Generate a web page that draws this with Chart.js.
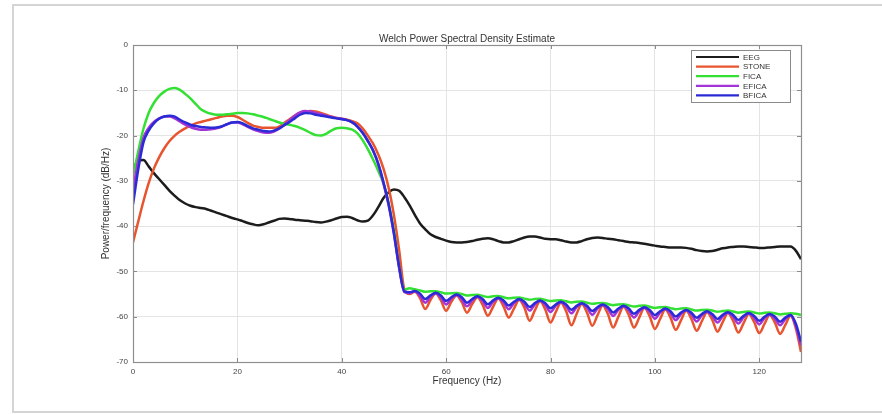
<!DOCTYPE html>
<html>
<head>
<meta charset="utf-8">
<script src="https://cdn.jsdelivr.net/npm/chart.js@4.4.1/dist/chart.umd.min.js"></script>
<style>
  html, body { margin: 0; padding: 0; background: #ffffff; }
  #wrap { position: relative; width: 882px; height: 414px; overflow: hidden; }
  #frame { position: absolute; left: 12px; top: 4px; width: 872px; height: 409px;
           border: 2px solid #d4d4d4; box-sizing: border-box; }
  canvas { position: absolute; left: 0; top: 0; }
</style>
</head>
<body>
<div id="wrap">
  <div id="frame"></div>
  <canvas id="psd" width="882" height="414"></canvas>
</div>
<script>
// Welch PSD estimates (dB/Hz), one value per 1 Hz bin from 0 to 128 Hz
const seriesNames = ['EEG', 'STONE', 'FICA', 'EFICA', 'BFICA'];
const seriesColors = ['#1c1c1c', '#e8542e', '#33e033', '#a334d6', '#2b2bd6'];
const xTicks = [0, 20, 40, 60, 80, 100, 120];
const yTicks = [0, -10, -20, -30, -40, -50, -60, -70];

const freqHz = [];
for (let f = 0; f <= 128; f++) freqHz.push(f);

const eeg = [
  -27.5, -25.6, -25.4, -26.8, -28.3, -29.6, -30.9, -32.2, -33.3, -34.3,
  -35.0, -35.5, -35.8, -36.0, -36.2, -36.6, -37.0, -37.4, -37.8, -38.2,
  -38.5, -38.9, -39.3, -39.6, -39.8, -39.6, -39.2, -38.8, -38.4, -38.3,
  -38.4, -38.6, -38.7, -38.8, -38.9, -39.1, -39.2, -39.0, -38.7, -38.3,
  -38.0, -37.9, -38.2, -38.7, -39.0, -38.8, -37.6, -35.8, -33.8, -32.5,
  -31.9, -32.2, -33.6, -35.4, -37.5, -39.4, -40.7, -41.8, -42.4, -42.8,
  -43.2, -43.5, -43.6, -43.6, -43.5, -43.3, -43.0, -42.8, -42.7, -42.9,
  -43.3, -43.6, -43.6, -43.3, -42.9, -42.5, -42.3, -42.3, -42.5, -42.8,
  -42.9, -42.9, -43.1, -43.4, -43.6, -43.6, -43.3, -42.9, -42.6, -42.5,
  -42.6, -42.8, -42.9, -43.1, -43.3, -43.5, -43.6, -43.7, -43.9, -44.1,
  -44.3, -44.5, -44.6, -44.7, -44.7, -44.7, -44.8, -45.0, -45.3, -45.5,
  -45.6, -45.5, -45.2, -44.9, -44.7, -44.6, -44.5, -44.5, -44.6, -44.7,
  -44.8, -44.8, -44.7, -44.6, -44.5, -44.5, -44.5, -45.4, -47.3
];

const stone = [
  -43.6, -39.0, -34.5, -30.5, -27.3, -24.8, -22.8, -21.2, -20.0, -19.1,
  -18.4, -17.8, -17.3, -17.0, -16.7, -16.4, -16.1, -15.8, -15.6, -15.6,
  -15.9, -16.5, -17.2, -17.8, -18.1, -18.3, -18.3, -18.3, -18.0, -17.2,
  -16.4, -15.6, -15.0, -14.7, -14.6, -14.7, -15.0, -15.4, -15.8, -16.1,
  -16.3, -16.5, -16.8, -17.3, -18.4, -20.0, -21.8, -24.2, -27.3, -31.6,
  -37.6, -45.3, -54.0, -55.0, -54.5, -55.9, -58.3, -56.3, -54.9, -56.4,
  -58.7, -56.7, -55.3, -56.8, -59.1, -57.2, -55.7, -57.4, -59.8, -57.8,
  -56.0, -57.7, -60.2, -58.2, -56.3, -58.0, -60.9, -58.6, -56.6, -58.4,
  -61.3, -59.0, -56.9, -58.8, -61.9, -59.4, -57.2, -59.1, -62.0, -59.7,
  -57.5, -59.4, -62.4, -60.0, -57.8, -59.6, -62.4, -60.2, -58.1, -59.9,
  -62.7, -60.5, -58.4, -60.2, -62.9, -60.8, -58.7, -60.5, -63.1, -61.0,
  -59.0, -60.7, -63.3, -61.2, -59.2, -60.9, -63.5, -61.4, -59.4, -61.1,
  -63.6, -61.6, -59.6, -61.3, -63.8, -61.8, -59.8, -62.5, -67.8
];

const fica = [
  -29.0, -23.5, -18.5, -15.0, -12.8, -11.3, -10.3, -9.7, -9.5, -9.9,
  -10.8, -11.8, -13.0, -14.2, -14.8, -15.2, -15.4, -15.4, -15.3, -15.2,
  -15.0, -15.0, -15.1, -15.3, -15.6, -15.9, -16.3, -16.7, -17.1, -17.4,
  -17.6, -17.9, -18.3, -18.8, -19.4, -19.9, -20.0, -19.6, -18.9, -18.4,
  -18.3, -18.4, -18.7, -19.5, -21.0, -23.0, -25.3, -27.8, -30.6, -35.0,
  -41.0, -49.0, -54.0, -53.7, -53.95, -54.2, -54.5, -54.4, -54.35, -54.6,
  -54.9, -54.8, -54.75, -55.0, -55.3, -55.2, -55.15, -55.4, -55.65, -55.5,
  -55.45, -55.7, -55.95, -55.8, -55.75, -56.0, -56.25, -56.1, -56.05, -56.3,
  -56.55, -56.4, -56.35, -56.6, -56.85, -56.7, -56.65, -56.9, -57.15, -57.0,
  -56.95, -57.2, -57.45, -57.3, -57.25, -57.5, -57.75, -57.6, -57.55, -57.8,
  -58.05, -57.9, -57.85, -58.1, -58.35, -58.2, -58.15, -58.4, -58.65, -58.5,
  -58.45, -58.65, -58.9, -58.75, -58.65, -58.85, -59.1, -58.95, -58.85, -59.05,
  -59.3, -59.15, -59.05, -59.25, -59.5, -59.35, -59.25, -59.35, -59.6
];

const efica = [
  -32.0, -25.5, -20.5, -18.3, -17.0, -16.2, -15.8, -15.8, -16.2, -16.9,
  -17.6, -18.1, -18.5, -18.7, -18.7, -18.6, -18.4, -18.0, -17.5, -17.1,
  -17.1, -17.5, -18.1, -18.6, -19.0, -19.3, -19.4, -19.1, -18.5, -17.6,
  -16.6, -15.6, -14.9, -14.6, -14.7, -15.0, -15.3, -15.6, -15.9, -16.1,
  -16.3, -16.6, -17.1, -18.0, -19.4, -21.2, -23.3, -26.4, -30.6, -35.5,
  -41.8, -49.3, -54.6, -54.8, -54.4, -55.4, -56.9, -55.6, -54.8, -55.8,
  -57.3, -56.0, -55.2, -56.2, -57.7, -56.4, -55.6, -56.5, -58.05, -56.7,
  -55.9, -56.8, -58.35, -57.0, -56.2, -57.1, -58.65, -57.3, -56.5, -57.4,
  -58.95, -57.6, -56.8, -57.7, -59.25, -57.9, -57.1, -58.0, -59.55, -58.2,
  -57.4, -58.3, -59.85, -58.5, -57.7, -58.6, -60.15, -58.8, -58.0, -58.9,
  -60.45, -59.1, -58.3, -59.2, -60.75, -59.4, -58.6, -59.5, -61.05, -59.7,
  -58.9, -59.8, -61.3, -59.9, -59.1, -60.0, -61.5, -60.1, -59.3, -60.2,
  -61.7, -60.3, -59.5, -60.4, -61.9, -60.5, -59.7, -62.0, -66.3
];

const bfica = [
  -35.2, -27.5, -21.5, -18.9, -17.3, -16.3, -15.8, -15.6, -15.8, -16.5,
  -17.1, -17.6, -17.9, -18.1, -18.2, -18.3, -18.2, -18.0, -17.5, -17.1,
  -17.0, -17.3, -17.9, -18.4, -18.7, -19.0, -19.1, -18.9, -18.4, -17.7,
  -17.0, -16.2, -15.4, -15.0, -15.1, -15.4, -15.6, -15.8, -16.0, -16.2,
  -16.4, -16.6, -17.1, -18.0, -19.4, -21.2, -23.3, -26.2, -30.3, -35.2,
  -41.5, -49.0, -54.4, -54.6, -54.3, -54.9, -56.1, -55.3, -54.7, -55.3,
  -56.5, -55.7, -55.1, -55.7, -56.9, -56.1, -55.5, -56.1, -57.25, -56.4,
  -55.8, -56.4, -57.55, -56.7, -56.1, -56.7, -57.85, -57.0, -56.4, -57.0,
  -58.15, -57.3, -56.7, -57.3, -58.45, -57.6, -57.0, -57.6, -58.75, -57.9,
  -57.3, -57.9, -59.05, -58.2, -57.6, -58.2, -59.35, -58.5, -57.9, -58.5,
  -59.65, -58.8, -58.2, -58.8, -59.95, -59.1, -58.5, -59.1, -60.25, -59.4,
  -58.8, -59.4, -60.5, -59.6, -59.0, -59.6, -60.7, -59.8, -59.2, -59.8,
  -60.9, -60.0, -59.4, -60.0, -61.1, -60.2, -59.6, -61.5, -65.5
];

const seriesValues = [eeg, stone, fica, efica, bfica];

const FONT = 'Liberation Sans, Arial, Helvetica, sans-serif';

// Axes frame, inner tick marks, title, axis labels and the boxed legend
const figureDecor = {
  id: 'figureDecor',
  beforeDatasetsDraw(chart) {
    const { ctx, chartArea: a, scales } = chart;
    ctx.save();
    ctx.strokeStyle = '#8a8a8a';
    ctx.lineWidth = 1;
    ctx.beginPath();
    xTicks.forEach(v => {
      const x = Math.round(scales.x.getPixelForValue(v)) + 0.5;
      ctx.moveTo(x, a.bottom); ctx.lineTo(x, a.bottom - 4);
      ctx.moveTo(x, a.top); ctx.lineTo(x, a.top + 4);
    });
    yTicks.forEach(v => {
      const y = Math.round(scales.y.getPixelForValue(v)) + 0.5;
      ctx.moveTo(a.left, y); ctx.lineTo(a.left + 4, y);
      ctx.moveTo(a.right, y); ctx.lineTo(a.right - 4, y);
    });
    ctx.stroke();
    ctx.restore();
  },
  afterDraw(chart) {
    const { ctx, chartArea: a } = chart;
    ctx.save();
    // axes box
    ctx.strokeStyle = '#8f8f8f';
    ctx.lineWidth = 1.2;
    ctx.strokeRect(a.left + 0.5, a.top + 0.5, a.right - a.left, a.bottom - a.top);

    // title
    ctx.fillStyle = '#333333';
    ctx.font = '10px ' + FONT;
    ctx.textAlign = 'center';
    ctx.textBaseline = 'bottom';
    ctx.fillText('Welch Power Spectral Density Estimate', (a.left + a.right) / 2, a.top - 1);

    // x axis label
    ctx.textBaseline = 'middle';
    ctx.fillText('Frequency (Hz)', (a.left + a.right) / 2, 381);

    // y axis label
    ctx.save();
    ctx.translate(106, (a.top + a.bottom) / 2);
    ctx.rotate(-Math.PI / 2);
    ctx.fillText('Power/frequency (dB/Hz)', 0, 0);
    ctx.restore();

    // legend
    const bx = 691, by = 50, bw = 99, bh = 52;
    ctx.fillStyle = '#ffffff';
    ctx.fillRect(bx, by, bw, bh);
    ctx.strokeStyle = '#8a8a8a';
    ctx.lineWidth = 1;
    ctx.strokeRect(bx + 0.5, by + 0.5, bw, bh);
    ctx.font = '8px ' + FONT;
    ctx.textAlign = 'left';
    ctx.textBaseline = 'middle';
    chart.data.datasets.forEach((ds, i) => {
      const y = by + 7 + i * 9.6;
      ctx.strokeStyle = ds.borderColor;
      ctx.lineWidth = 2.2;
      ctx.beginPath();
      ctx.moveTo(bx + 5, y); ctx.lineTo(bx + 48, y);
      ctx.stroke();
      ctx.fillStyle = '#333333';
      ctx.fillText(ds.label, bx + 52, y + 0.5);
    });
    ctx.restore();
  }
};

new Chart(document.getElementById('psd'), {
  type: 'line',
  data: {
    labels: freqHz,
    datasets: seriesNames.map((name, i) => ({
      label: name,
      data: seriesValues[i],
      borderColor: seriesColors[i],
      backgroundColor: seriesColors[i],
      borderWidth: 2.5,
      pointRadius: 0,
      fill: false,
      cubicInterpolationMode: 'monotone',
      order: seriesNames.length - i
    }))
  },
  options: {
    responsive: false,
    animation: false,
    events: [],
    layout: { padding: { left: 0, right: 81, top: 45, bottom: 0 } },
    plugins: {
      legend: { display: false },
      tooltip: { enabled: false },
      title: { display: false }
    },
    scales: {
      x: {
        type: 'linear',
        min: 0,
        max: 128,
        afterBuildTicks: s => { s.ticks = xTicks.map(v => ({ value: v })); },
        afterFit: s => { s.height = 52; },
        grid: { color: '#e4e4e4', lineWidth: 1, drawTicks: false },
        border: { display: false },
        ticks: { color: '#444444', font: { size: 8, family: FONT }, padding: 5, maxRotation: 0 }
      },
      y: {
        type: 'linear',
        min: -70,
        max: 0,
        afterBuildTicks: s => { s.ticks = yTicks.map(v => ({ value: v })); },
        afterFit: s => { s.width = 133; },
        grid: { color: '#e4e4e4', lineWidth: 1, drawTicks: false },
        border: { display: false },
        ticks: { color: '#444444', font: { size: 8, family: FONT }, padding: 5 }
      }
    }
  },
  plugins: [figureDecor]
});
</script>
</body>
</html>
